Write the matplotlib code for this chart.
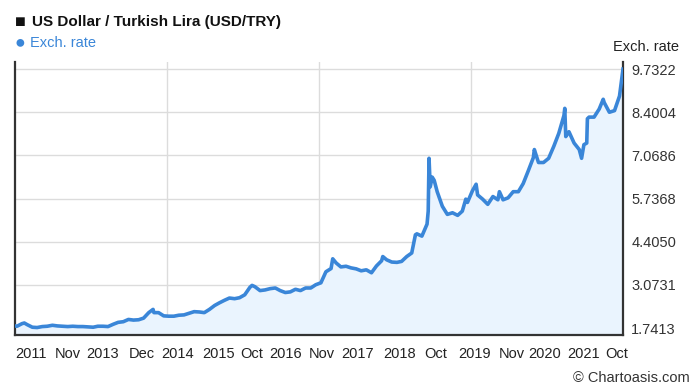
import pandas as pd
import matplotlib
matplotlib.use("Agg")
import matplotlib.pyplot as plt

plt.rcParams['font.family'] = ['Liberation Sans', 'DejaVu Sans']

# monthly readings (first day of month), Nov 2011 .. Oct 2021
rate_2011 = [1.80, 1.88]
rate_2012 = [1.85, 1.77, 1.76, 1.79, 1.80, 1.83, 1.81, 1.80, 1.79, 1.80, 1.79, 1.79]
rate_2013 = [1.78, 1.77, 1.80, 1.80, 1.79, 1.86, 1.92, 1.94, 2.01, 1.99, 2.00, 2.05]
rate_2014 = [2.22, 2.22, 2.22, 2.12, 2.11, 2.11, 2.14, 2.15, 2.20, 2.25, 2.24, 2.22]
rate_2015 = [2.32, 2.44, 2.52, 2.60, 2.67, 2.65, 2.68, 2.77, 3.00, 3.02, 2.90, 2.92]
rate_2016 = [2.96, 2.98, 2.90, 2.84, 2.86, 2.94, 2.90, 2.98, 2.98, 3.08, 3.14, 3.48]
rate_2017 = [3.58, 3.75, 3.63, 3.65, 3.60, 3.57, 3.51, 3.54, 3.45, 3.66, 3.82, 3.85]
rate_2018 = [3.78, 3.77, 3.80, 3.95, 4.06, 4.65, 4.58, 4.95, 6.40, 5.95, 5.50, 5.25]
rate_2019 = [5.30, 5.22, 5.35, 5.62, 5.98, 5.85, 5.72, 5.56, 5.80, 5.70, 5.70, 5.76]
rate_2020 = [5.95, 5.95, 6.20, 6.60, 7.00, 6.85, 6.85, 6.98, 7.35, 7.75, 8.30, 7.80]
rate_2021 = [7.45, 7.25, 7.40, 8.25, 8.25, 8.50, 8.70, 8.40, 8.45, 8.90]

# extra readings at the sharp moves
extra_dates = ['2011-10-20', '2011-12-15', '2014-01-27', '2015-09-14', '2017-01-11',
               '2017-11-08', '2018-05-23', '2018-08-08', '2018-08-13', '2018-08-20',
               '2018-09-13', '2019-03-22', '2019-05-23', '2019-10-10', '2020-05-07',
               '2020-11-06', '2020-11-12', '2021-02-15', '2021-03-18', '2021-03-22',
               '2021-06-25', '2021-10-22']
extra_rates = [1.81, 1.90, 2.32, 3.06, 3.88,
               3.95, 4.62, 5.35, 6.98, 6.10,
               6.30, 5.72, 6.18, 5.95, 7.25,
               8.52, 7.65, 6.98, 7.45, 8.20,
               8.80, 9.73]

y_ticks = [1.7413, 3.0731, 4.4050, 5.7368, 7.0686, 8.4004, 9.7322]
x_labels = ['2011', 'Nov', '2013', 'Dec', '2014', '2015', 'Oct', '2016', 'Nov',
            '2017', '2018', 'Oct', '2019', 'Nov', '2020', '2021', 'Oct']
x_label_px = [31, 68, 103, 142, 178, 219, 252, 286, 322, 358, 400, 436, 475,
              512, 545, 584, 617]

monthly = (rate_2011 + rate_2012 + rate_2013 + rate_2014 + rate_2015 + rate_2016
           + rate_2017 + rate_2018 + rate_2019 + rate_2020 + rate_2021)
dates = pd.date_range('2011-11-01', periods=len(monthly), freq='MS')
s = pd.concat([pd.Series(monthly, index=dates),
               pd.Series(extra_rates, index=pd.to_datetime(extra_dates))]).sort_index()

line_color = '#3a86d8'
W, H = 700, 388
fig = plt.figure(figsize=(7, 3.88), dpi=100)
ax = fig.add_axes([15 / W, 1 - 335 / H, 608 / W, 273 / H])

ax.fill_between(s.index, s.values, 0, color='#eaf4fe', zorder=2, linewidth=0)
ax.plot(s.index, s.values, color=line_color, lw=2.6, zorder=3, solid_joinstyle='round')

ax.set_ylim(1.53, 9.95)
ax.set_xlim(s.index[0], s.index[-1])
ax.set_yticks(y_ticks)
ax.set_yticklabels([f"{v:.4f}" for v in y_ticks])
ax.yaxis.tick_right()
ax.tick_params(axis='y', length=0, pad=6, labelsize=10.5, labelcolor='#333333')
ax.set_xticks([])

for v in y_ticks:
    ax.axhline(v, color='#dcdcdc', lw=1, zorder=1)
for d in ['2014-04-20', '2016-10-20', '2019-04-20']:
    ax.axvline(pd.Timestamp(d), color='#dcdcdc', lw=1, zorder=1)

ax.spines['top'].set_visible(False)
for side in ['left', 'right', 'bottom']:
    ax.spines[side].set_color('#333333')
    ax.spines[side].set_linewidth(1.6)

for lab, px in zip(x_labels, x_label_px):
    fig.text(px / W, 1 - 354 / H, lab, ha='center', va='center',
             fontsize=10.5, color='#222222')

fig.text(15 / W, 1 - 22 / H, '■', ha='left', va='center', fontsize=13, color='#111111')
fig.text(32 / W, 1 - 22 / H, 'US Dollar / Turkish Lira (USD/TRY)', ha='left',
         va='center', fontsize=11, fontweight='bold', color='#111111')
fig.text(14 / W, 1 - 43 / H, '●', ha='left', va='center', fontsize=13, color=line_color)
fig.text(30 / W, 1 - 43 / H, 'Exch. rate', ha='left', va='center', fontsize=10.5,
         color=line_color)
fig.text(613 / W, 1 - 47 / H, 'Exch. rate', ha='left', va='center', fontsize=10.5,
         color='#222222')
fig.text(690 / W, 1 - 378 / H, '© Chartoasis.com', ha='right', va='center',
         fontsize=10.5, color='#333333')

fig.savefig('out.png', dpi=100)
